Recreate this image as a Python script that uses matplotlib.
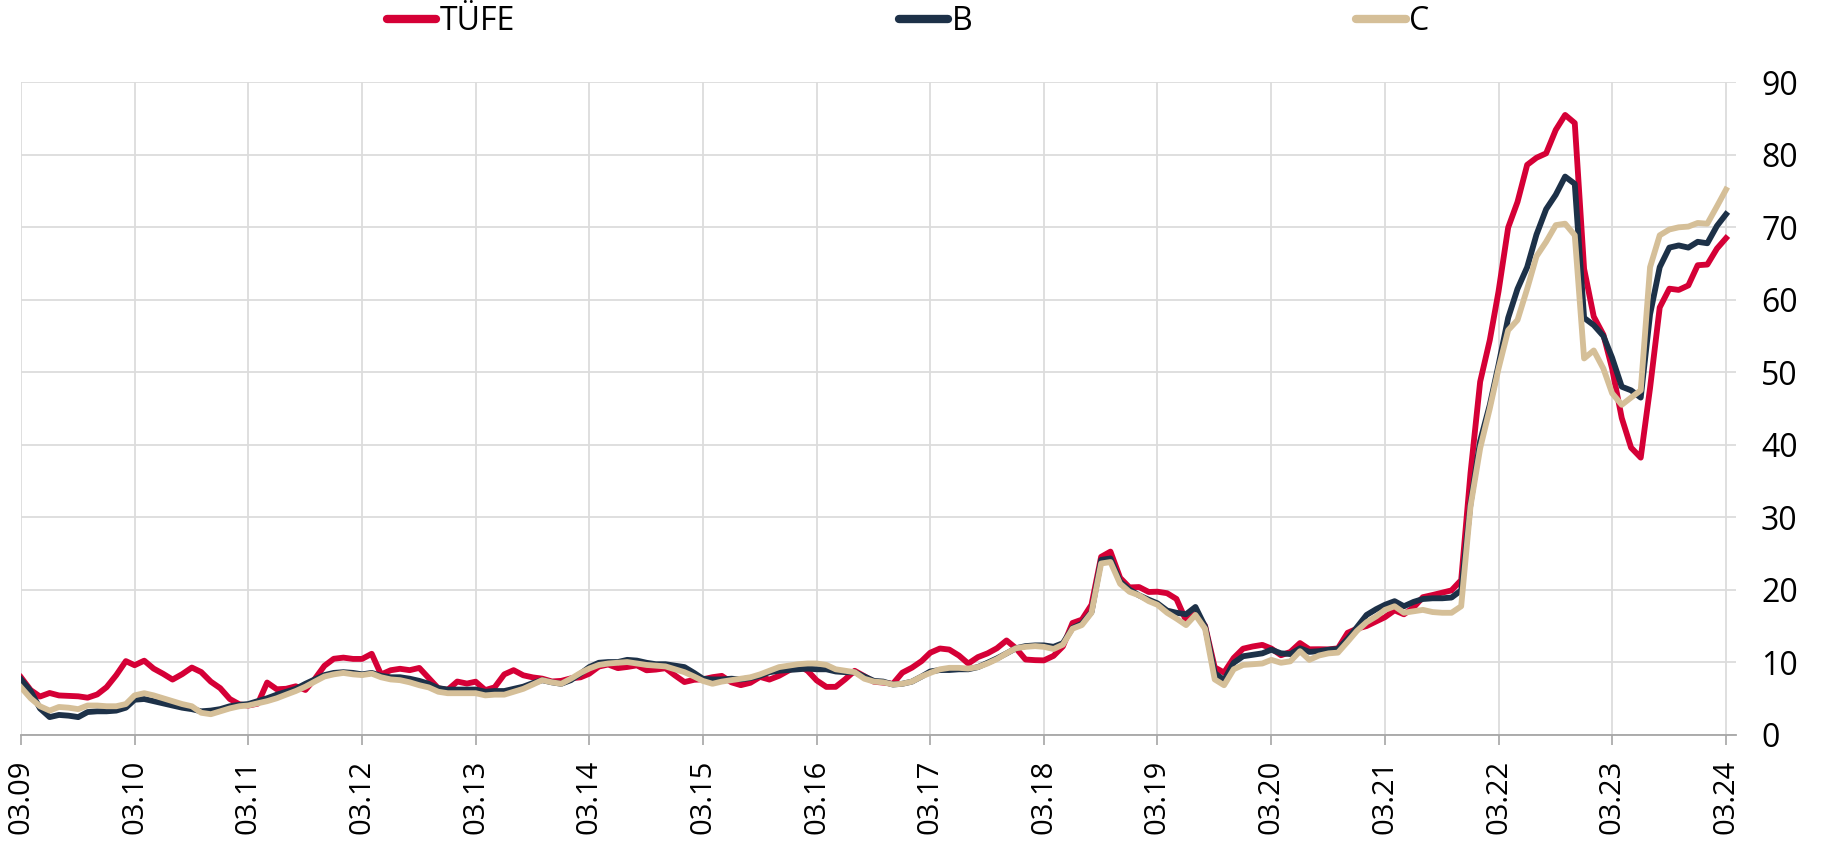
import numpy as np
import pandas as pd
import matplotlib
matplotlib.use("Agg")
import matplotlib.pyplot as plt
import matplotlib.dates as mdates

plt.rcParams['font.family'] = ['Open Sans', 'DejaVu Sans']

# monthly, 03.2009 - 03.2024
dates = pd.date_range("2009-03-01", "2024-03-01", freq="MS")

tufe = [
    7.89, 6.13, 5.24, 5.73, 5.39, 5.33, 5.27, 5.08, 5.53, 6.53,
    8.19, 10.13, 9.56, 10.19, 9.10, 8.37, 7.58, 8.33, 9.24, 8.62, 7.29, 6.40,
    4.90, 4.16, 3.99, 4.26, 7.17, 6.24, 6.31, 6.65, 6.15, 7.66, 9.48, 10.45,
    10.61, 10.43, 10.43, 11.14, 8.28, 8.87, 9.07, 8.88, 9.19, 7.80, 6.37, 6.16,
    7.31, 7.03, 7.29, 6.13, 6.51, 8.30, 8.88, 8.17, 7.88, 7.71, 7.32, 7.40,
    7.75, 7.89, 8.39, 9.38, 9.66, 9.16, 9.32, 9.54, 8.86, 8.96, 9.15, 8.17,
    7.24, 7.55, 7.61, 7.91, 8.09, 7.20, 6.81, 7.14, 7.95, 7.58, 8.10, 8.81,
    9.58, 8.78, 7.46, 6.57, 6.58, 7.64, 8.79, 8.05, 7.28, 7.16, 7.00, 8.53,
    9.22, 10.13, 11.29, 11.87, 11.72, 10.90, 9.79, 10.68, 11.20, 11.90, 12.98, 11.92,
    10.35, 10.26, 10.23, 10.85, 12.15, 15.39, 15.85, 17.90, 24.52, 25.24, 21.62, 20.30,
    20.35, 19.67, 19.71, 19.50, 18.71, 15.72, 16.65, 15.01, 9.26, 8.55, 10.56, 11.84,
    12.15, 12.37, 11.86, 10.94, 11.39, 12.62, 11.76, 11.77, 11.75, 11.89, 14.03, 14.60,
    14.97, 15.61, 16.19, 17.14, 16.59, 17.53, 18.95, 19.25, 19.58, 19.89, 21.31, 36.08,
    48.69, 54.44, 61.14, 69.97, 73.50, 78.62, 79.60, 80.21, 83.45, 85.51, 84.39, 64.27,
    57.68, 55.18, 50.51, 43.68, 39.59, 38.21, 47.83, 58.94, 61.53, 61.36, 61.98, 64.77,
    64.86, 67.07, 68.50,
]

b_index = [
    7.6, 6.0, 3.6, 2.4, 2.7, 2.6, 2.4, 3.1, 3.2, 3.2,
    3.3, 3.7, 4.8, 4.9, 4.6, 4.3, 4.0, 3.7, 3.5, 3.2, 3.3, 3.5,
    3.9, 4.1, 4.2, 4.6, 5.0, 5.5, 5.9, 6.3, 7.0, 7.6, 8.2, 8.5,
    8.6, 8.5, 8.3, 8.5, 8.1, 7.9, 7.9, 7.7, 7.4, 7.0, 6.4, 6.2,
    6.2, 6.2, 6.2, 5.9, 6.0, 6.0, 6.3, 6.6, 7.1, 7.5, 7.2, 7.0,
    7.5, 8.4, 9.3, 9.9, 10.0, 10.0, 10.3, 10.2, 9.9, 9.7, 9.7, 9.5,
    9.3, 8.5, 7.7, 7.6, 7.6, 7.7, 7.6, 7.8, 8.1, 8.6, 8.8, 8.9,
    9.0, 9.1, 9.0, 9.0, 8.7, 8.6, 8.6, 8.0, 7.4, 7.3, 6.9, 7.0,
    7.3, 8.0, 8.7, 8.9, 8.9, 9.0, 9.0, 9.3, 9.9, 10.5, 11.2, 11.9,
    12.2, 12.3, 12.3, 12.1, 12.6, 14.7, 15.3, 16.9, 24.1, 24.3, 21.1, 20.0,
    19.2, 18.6, 18.1, 17.1, 16.8, 16.6, 17.6, 14.9, 8.5, 7.5, 9.9, 10.8,
    11.0, 11.2, 11.7, 11.2, 11.1, 11.9, 11.4, 11.5, 11.7, 11.8, 13.2, 14.8,
    16.5, 17.3, 17.9, 18.4, 17.7, 18.3, 18.7, 18.8, 18.8, 18.9, 19.9, 31.9,
    40.5, 45.5, 51.0, 57.5, 61.5, 64.5, 69.0, 72.5, 74.5, 77.0, 76.0, 57.5,
    56.5, 55.0, 52.0, 48.0, 47.5, 46.5, 58.0, 64.5, 67.2, 67.5, 67.2, 68.0,
    67.8, 70.2, 71.8,
]

c_index = [
    6.5, 5.0, 3.9, 3.3, 3.8, 3.7, 3.5, 4.0, 4.0, 3.9,
    3.9, 4.2, 5.4, 5.7, 5.4, 5.0, 4.6, 4.2, 3.9, 3.0, 2.8, 3.2,
    3.6, 3.9, 4.0, 4.3, 4.6, 5.0, 5.5, 6.0, 6.6, 7.3, 8.0, 8.3,
    8.5, 8.3, 8.2, 8.4, 7.9, 7.6, 7.5, 7.2, 6.8, 6.5, 5.9, 5.7,
    5.7, 5.7, 5.7, 5.4, 5.5, 5.5, 5.9, 6.3, 6.9, 7.5, 7.2, 7.0,
    7.7, 8.5, 9.1, 9.6, 9.8, 9.9, 10.0, 9.8, 9.6, 9.5, 9.4, 9.0,
    8.6, 8.0, 7.4, 7.0, 7.3, 7.5, 7.7, 7.9, 8.3, 8.8, 9.3, 9.5,
    9.7, 9.8, 9.8, 9.6, 9.0, 8.8, 8.6, 7.7, 7.3, 7.2, 6.9, 7.0,
    7.3, 8.0, 8.5, 9.0, 9.2, 9.2, 9.1, 9.3, 9.8, 10.4, 11.2, 11.9,
    12.1, 12.2, 12.1, 11.8, 12.4, 14.6, 15.1, 16.8, 23.6, 23.8, 20.8, 19.7,
    19.2, 18.4, 17.9, 16.8, 16.0, 15.1, 16.5, 14.6, 7.6, 6.8, 9.0, 9.6,
    9.7, 9.8, 10.3, 9.9, 10.1, 11.5, 10.3, 10.9, 11.2, 11.3, 12.8, 14.3,
    15.5, 16.3, 17.2, 17.7, 16.8, 17.0, 17.2, 16.9, 16.8, 16.8, 17.7, 31.5,
    39.5, 45.0, 50.5, 55.8, 57.2, 61.5, 66.0, 68.0, 70.3, 70.5, 68.9, 51.9,
    53.0, 50.5, 47.1, 45.5, 46.5, 47.5, 64.5, 68.9, 69.7, 70.0, 70.1, 70.6,
    70.5, 72.9, 75.2,
]

tick_dates = pd.date_range("2009-03-01", "2024-03-01", freq="12MS")
tick_labels = [d.strftime("%m.%y") for d in tick_dates]
y_ticks = list(range(0, 100, 10))

red = "#d50036"
navy = "#1d3148"
tan = "#d5bf98"

W, H = 1844, 843
fig = plt.figure(figsize=(W / 100, H / 100), dpi=100)
left, right, top, bottom = 21, 1736, 82.4, 734.5
ax = fig.add_axes([left / W, 1 - bottom / H, (right - left) / W, (bottom - top) / H])

l1, = ax.plot(dates, tufe, color=red, lw=4.2, label="TÜFE", solid_joinstyle="round")
l2, = ax.plot(dates, b_index, color=navy, lw=4.2, label="B", solid_joinstyle="round")
l3, = ax.plot(dates, c_index, color=tan, lw=4.2, label="C", solid_joinstyle="round")

x0 = mdates.date2num(dates[0])
x1 = mdates.date2num(dates[-1])
ax.set_xlim(x0, x1 + (x1 - x0) * 10 / 1705)
ax.set_ylim(0, 90)

ax.set_xticks(tick_dates)
ax.set_xticklabels(tick_labels, rotation=90, fontsize=21)
ax.set_yticks(y_ticks)
ax.yaxis.tick_right()
ax.tick_params(axis="y", length=0, pad=18, labelsize=23)
ax.tick_params(axis="x", length=7, width=1.2, color="#a6a6a6", pad=11)

ax.grid(True, color="#dcdcdc", linewidth=1.3)
ax.set_axisbelow(True)
for s in ["top", "right", "left"]:
    ax.spines[s].set_visible(False)
ax.spines["bottom"].set_color("#a6a6a6")
ax.spines["bottom"].set_linewidth(1.3)

leg = fig.legend(handles=[l1, l2, l3], loc="center", bbox_to_anchor=(0.4925, 0.974),
                 ncol=3, frameon=False, fontsize=23, handlelength=1.55,
                 handletextpad=0.12, columnspacing=12.0)
for h in leg.get_lines():
    h.set_linewidth(6)
    h.set_solid_capstyle("round")

fig.savefig("out.png", dpi=100)
